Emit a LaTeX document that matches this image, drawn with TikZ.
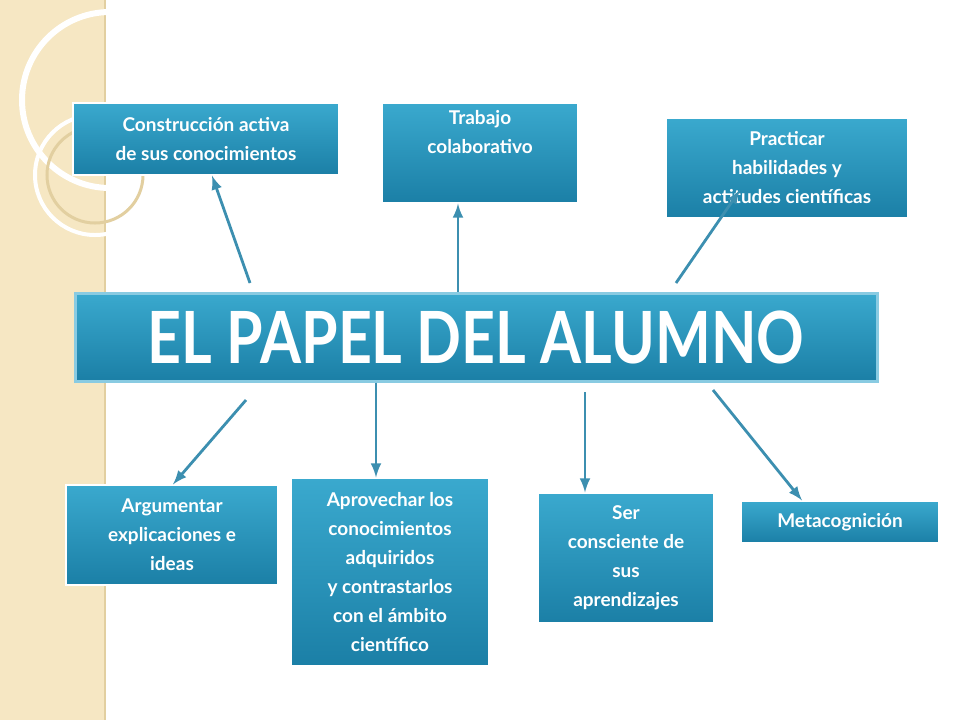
\documentclass[tikz,border=0pt]{standalone}
\usepackage{fontspec}
\setmainfont{Lato}
\usetikzlibrary{positioning}
\definecolor{boxtop}{HTML}{3AA9CE}
\definecolor{boxbot}{HTML}{1B7FA6}
\definecolor{band}{HTML}{F6E7C3}
\definecolor{bandline}{HTML}{E2CFA0}
\definecolor{arrowc}{HTML}{3C8FB0}
\tikzset{
  box/.style={draw=white, line width=0.6pt, top color=boxtop, bottom color=boxbot,
    text=white, font=\bfseries\fontsize{9.5}{14.5}\selectfont, align=center, inner sep=2pt},
  lbl/.style={text=white, font=\bfseries\fontsize{9.5}{14.5}\selectfont, align=center, inner sep=4pt},
  arr/.style={draw=arrowc, line width=1.4pt, -latex}
}
\begin{document}
\begin{tikzpicture}[x=0.5pt,y=-0.5pt]
\useasboundingbox (0,0) rectangle (960,720);
\fill[white] (0,0) rectangle (960,720);
% left band
\fill[band] (0,0) rectangle (105,720);
\draw[bandline, line width=1pt] (105,0) -- (105,720);
\draw[white, line width=3pt] (110,100) circle (88);
\draw[white, line width=2pt] (95,175) circle (60);
\draw[bandline, line width=1.5pt] (95,175) circle (48);
% title
\node[box, minimum width=401pt, minimum height=44pt, draw=boxtop!60!white, line width=1.5pt] (title) at (476,337)
  {\fontsize{36}{36}\selectfont\scalebox{0.82}[1]{EL PAPEL DEL ALUMNO}};
% boxes
\node[box, minimum width=133pt, minimum height=36pt] (cons) at (206,139) {Construcción activa\\de sus conocimientos};
\node[box, minimum width=98pt, minimum height=50pt,
  label={[lbl,anchor=north]north:Trabajo\\colaborativo}] (trab) at (480,153) {};
\node[box, minimum width=121pt, minimum height=50pt] (prac) at (787,168) {Practicar\\habilidades y\\actitudes científicas};
\node[box, minimum width=106pt, minimum height=50pt] (argu) at (172,535) {Argumentar\\explicaciones e\\ideas};
\node[box, minimum width=99pt, minimum height=94pt] (apro) at (390,572) {Aprovechar los\\conocimientos\\adquiridos\\y contrastarlos\\con el ámbito\\científico};
\node[box, minimum width=88pt, minimum height=65pt] (ser) at (626,558) {Ser\\consciente de\\sus\\aprendizajes};
\node[box, minimum width=99pt, minimum height=21pt] (meta) at (840,522) {Metacognición};
% arrows
\draw[arr] (250,283) -- (cons.south -| 212,0);
\draw[arr] (title.north -| 458,0) -- (trab.south -| 458,0);
\draw[arr] (676,283) -- (740,190);
\draw[arr] (246,400) -- (argu.north -| 173,0);
\draw[arr] (title.south -| 376,0) -- (apro.north -| 376,0);
\draw[arr] (585,392) -- (ser.north -| 585,0);
\draw[arr] (713,390) -- (meta.north -| 802,0);
\end{tikzpicture}
\end{document}
